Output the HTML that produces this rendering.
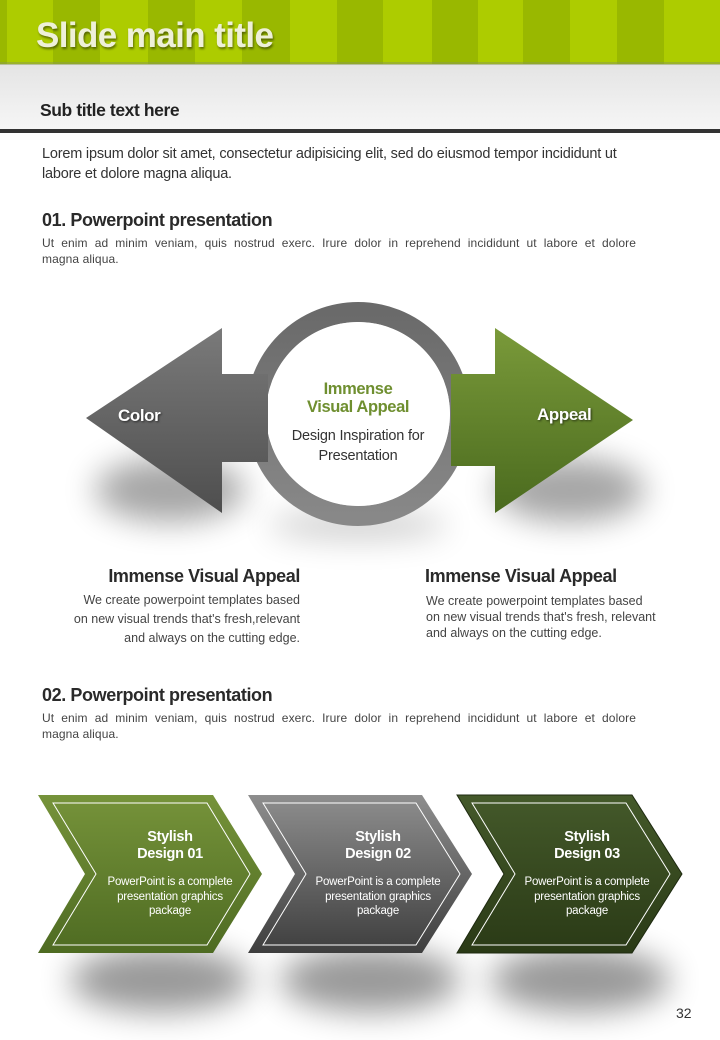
<!DOCTYPE html>
<html><head><meta charset="utf-8"><style>
*{margin:0;padding:0;box-sizing:border-box}
body{width:720px;height:1040px;background:#fff;position:relative;overflow:hidden;font-family:"Liberation Sans",sans-serif;color:#333}
.t{position:absolute;white-space:nowrap}
.h{font-weight:bold;font-size:18px;color:#2a2a2a;letter-spacing:-0.4px}
.p{font-size:12px;color:#444;width:594px;line-height:16px;letter-spacing:0.1px}
.p span{display:block;text-align:justify;text-align-last:justify}
</style></head><body>
<svg width="720" height="1040" style="position:absolute;left:0;top:0">
<defs>
<linearGradient id="gray" x1="0" y1="0" x2="0" y2="1"><stop offset="0" stop-color="#e4e4e4"/><stop offset="1" stop-color="#f6f6f6"/></linearGradient>
<linearGradient id="ga" x1="0" y1="0" x2="0" y2="1"><stop offset="0" stop-color="#7a7a7a"/><stop offset="1" stop-color="#4e4e4e"/></linearGradient>
<linearGradient id="gr" x1="0" y1="0" x2="0" y2="1"><stop offset="0" stop-color="#7a9a3a"/><stop offset="1" stop-color="#4a6a1e"/></linearGradient>
<linearGradient id="ring" x1="0" y1="0" x2="0" y2="1"><stop offset="0" stop-color="#6a6a6a"/><stop offset="1" stop-color="#888"/></linearGradient>
<linearGradient id="c1" x1="0" y1="0" x2="0" y2="1"><stop offset="0" stop-color="#76933a"/><stop offset="1" stop-color="#4e6b22"/></linearGradient>
<linearGradient id="c2" x1="0" y1="0" x2="0" y2="1"><stop offset="0" stop-color="#8e8e8e"/><stop offset="1" stop-color="#3e3e3e"/></linearGradient>
<linearGradient id="c3" x1="0" y1="0" x2="0" y2="1"><stop offset="0" stop-color="#44592a"/><stop offset="1" stop-color="#2a3a16"/></linearGradient>
<filter id="blur" x="-100%" y="-200%" width="300%" height="500%"><feGaussianBlur stdDeviation="16"/></filter>
</defs>
<rect x="0" y="0" width="720" height="64" fill="#adcc00"/>
<g fill="#99b800">
<rect x="0" y="0" width="7" height="64"/><rect x="53" y="0" width="47" height="64"/><rect x="148" y="0" width="47" height="64"/><rect x="242" y="0" width="48" height="64"/><rect x="337" y="0" width="46" height="64"/><rect x="432" y="0" width="46" height="64"/><rect x="523" y="0" width="47" height="64"/><rect x="617" y="0" width="47" height="64"/>
</g>
<rect x="0" y="64" width="720" height="66" fill="url(#gray)"/>
<rect x="0" y="62" width="720" height="3" fill="#8a9a50" opacity="0.5"/>
<rect x="0" y="129" width="720" height="4" fill="#333"/>
<ellipse cx="170" cy="490" rx="75" ry="32" fill="#000" opacity="0.35" filter="url(#blur)"/>
<ellipse cx="570" cy="490" rx="75" ry="32" fill="#000" opacity="0.35" filter="url(#blur)"/>
<ellipse cx="358" cy="525" rx="90" ry="14" fill="#000" opacity="0.2" filter="url(#blur)"/>
<circle cx="358" cy="414" r="102" fill="none" stroke="url(#ring)" stroke-width="20"/>
<circle cx="358" cy="414" r="92" fill="#fff"/>
<polygon points="86,418 222,328 222,374 268,374 268,462 222,462 222,513" fill="url(#ga)"/>
<polygon points="633,420 495,328 495,374 451,374 451,466 495,466 495,513" fill="url(#gr)"/>
<ellipse cx="160" cy="980" rx="90" ry="32" fill="#000" opacity="0.4" filter="url(#blur)"/>
<ellipse cx="370" cy="980" rx="90" ry="32" fill="#000" opacity="0.4" filter="url(#blur)"/>
<ellipse cx="580" cy="980" rx="90" ry="32" fill="#000" opacity="0.4" filter="url(#blur)"/>
<polygon points="38,795 213,795 262,874 213,953 38,953 85,874" fill="url(#c1)"/>
<polygon points="53,803 207,803 250,874 207,945 53,945 96,874" fill="none" stroke="#fff" stroke-width="1"/>
<polygon points="248,795 422,795 472,874 422,953 248,953 295,874" fill="url(#c2)"/>
<polygon points="263,803 416,803 460,874 416,945 263,945 306,874" fill="none" stroke="#fff" stroke-width="1"/>
<polygon points="457,795 632,795 682,874 632,953 457,953 504,874" fill="url(#c3)" stroke="#1e2a10"/>
<polygon points="472,803 626,803 670,874 626,945 472,945 515,874" fill="none" stroke="#fff" stroke-width="1"/>
</svg>
<div class="t" style="left:36px;top:16px;font-size:35px;font-weight:bold;color:#eef0d8;letter-spacing:-0.6px;text-shadow:1px 2px 2px rgba(0,0,0,0.45)">Slide main title</div>
<div class="t" style="left:40px;top:100px;font-size:17.5px;font-weight:bold;color:#222;letter-spacing:-0.4px">Sub title text here</div>
<div class="t" style="left:42px;top:144px;font-size:14.5px;line-height:20px;color:#333;letter-spacing:-0.2px">Lorem ipsum dolor sit amet, consectetur adipisicing elit, sed do eiusmod tempor incididunt ut<br>labore et dolore magna aliqua.</div>
<div class="t h" style="left:42px;top:210px">01. Powerpoint presentation</div>
<div class="t p" style="left:42px;top:235px"><span>Ut enim ad minim veniam, quis nostrud exerc. Irure dolor in reprehend incididunt ut labore et dolore</span>magna aliqua.</div>
<div class="t" style="left:118px;top:406px;font-size:17px;font-weight:bold;color:#fff;text-shadow:1px 1px 2px rgba(0,0,0,.6);letter-spacing:-0.4px">Color</div>
<div class="t" style="left:537px;top:405px;font-size:17px;font-weight:bold;color:#fff;text-shadow:1px 1px 2px rgba(0,0,0,.6);letter-spacing:-0.4px">Appeal</div>
<div class="t" style="left:268px;top:380px;width:180px;text-align:center;font-size:16.5px;font-weight:bold;color:#6f8f30;line-height:18px;letter-spacing:-0.4px">Immense<br>Visual Appeal</div>
<div class="t" style="left:268px;top:426px;width:180px;text-align:center;font-size:14.5px;color:#333;line-height:20px;letter-spacing:-0.2px">Design Inspiration for<br>Presentation</div>
<div class="t h" style="left:40px;top:566px;width:260px;text-align:right">Immense Visual Appeal</div>
<div class="t" style="left:20px;top:591px;width:280px;text-align:right;line-height:19px;font-size:12.5px;color:#444">We create powerpoint templates based<br>on new visual trends that's fresh,relevant<br>and always on the cutting edge.</div>
<div class="t h" style="left:425px;top:566px">Immense Visual Appeal</div>
<div class="t" style="left:426px;top:593px;line-height:16px;font-size:12.5px;color:#444">We create powerpoint templates based<br>on new visual trends that's fresh, relevant<br>and always on the cutting edge.</div>
<div class="t h" style="left:42px;top:685px">02. Powerpoint presentation</div>
<div class="t p" style="left:42px;top:710px"><span>Ut enim ad minim veniam, quis nostrud exerc. Irure dolor in reprehend incididunt ut labore et dolore</span>magna aliqua.</div>
<div class="t" style="left:100px;top:829px;width:140px;text-align:center;color:#fff;font-weight:bold;font-size:14.5px;line-height:17px;letter-spacing:-0.3px">Stylish<br>Design 01</div>
<div class="t" style="left:90px;top:875px;width:160px;text-align:center;color:#fff;font-size:11.5px;line-height:14.5px;letter-spacing:-0.2px">PowerPoint is a complete<br>presentation graphics<br>package</div>
<div class="t" style="left:308px;top:829px;width:140px;text-align:center;color:#fff;font-weight:bold;font-size:14.5px;line-height:17px;letter-spacing:-0.3px">Stylish<br>Design 02</div>
<div class="t" style="left:298px;top:875px;width:160px;text-align:center;color:#fff;font-size:11.5px;line-height:14.5px;letter-spacing:-0.2px">PowerPoint is a complete<br>presentation graphics<br>package</div>
<div class="t" style="left:517px;top:829px;width:140px;text-align:center;color:#fff;font-weight:bold;font-size:14.5px;line-height:17px;letter-spacing:-0.3px">Stylish<br>Design 03</div>
<div class="t" style="left:507px;top:875px;width:160px;text-align:center;color:#fff;font-size:11.5px;line-height:14.5px;letter-spacing:-0.2px">PowerPoint is a complete<br>presentation graphics<br>package</div>
<div class="t" style="left:676px;top:1005px;font-size:14px;color:#333">32</div>
</body></html>
